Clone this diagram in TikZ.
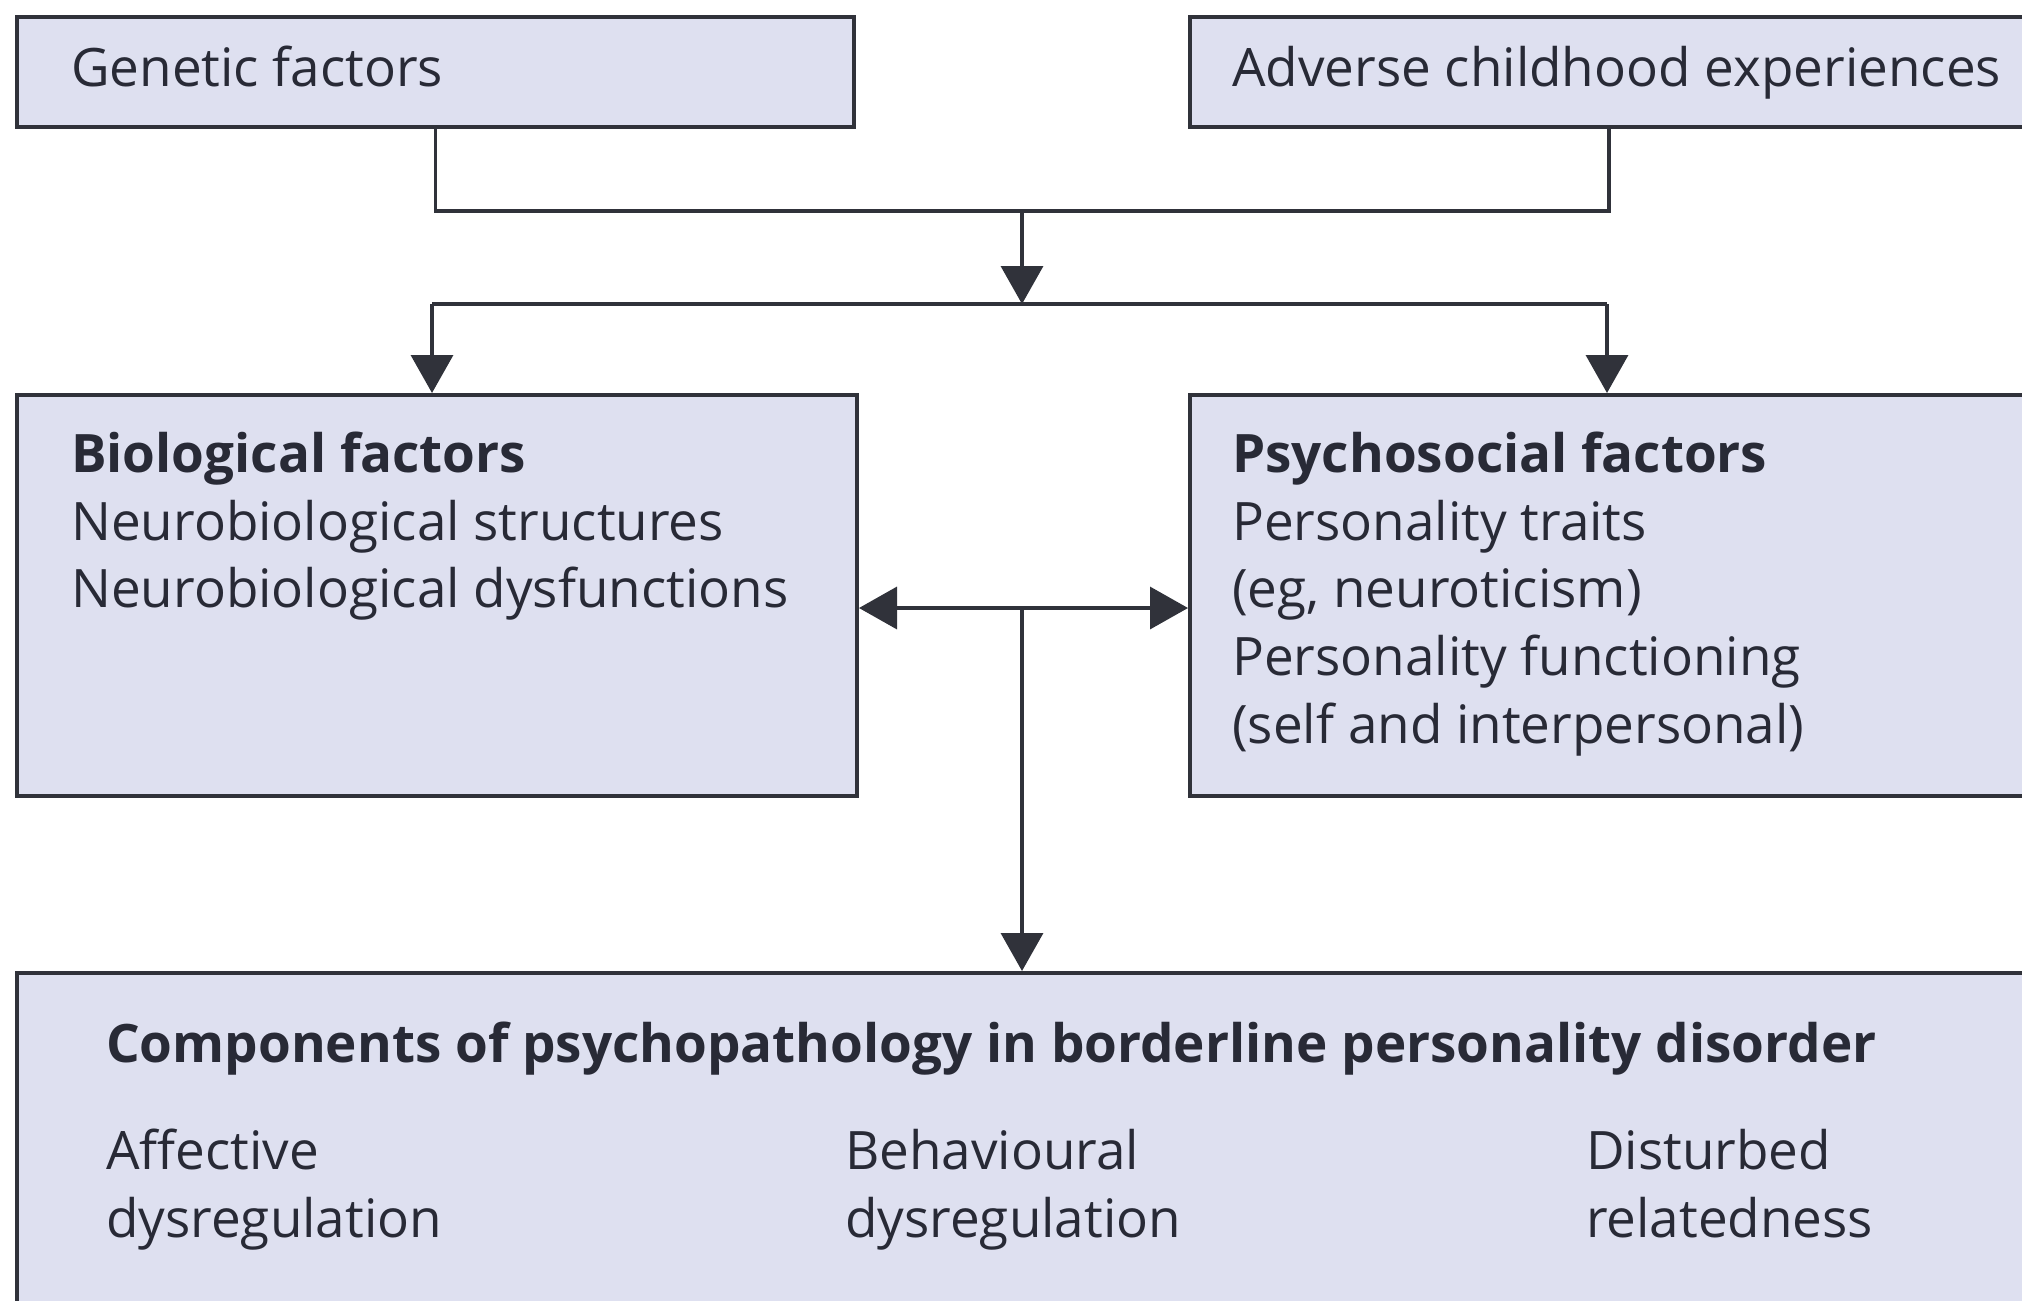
\documentclass[tikz,border=0pt]{standalone}
\usepackage{fontspec}
\setmainfont{Open Sans}
\usetikzlibrary{arrows.meta}
\definecolor{boxfill}{RGB}{222,224,240}
\definecolor{boxline}{RGB}{48,50,58}
\definecolor{txt}{RGB}{40,42,54}
\begin{document}
\begin{tikzpicture}[x=1pt,y=-1pt,
  box/.style={draw=boxline, fill=boxfill, line width=4pt, rectangle, anchor=north west, inner sep=0pt},
  lbl/.style={anchor=base west, inner sep=0pt, text=txt, font=\fontsize{53}{68}\selectfont},
  blbl/.style={lbl, font=\fontsize{53}{68}\selectfont\bfseries},
  conn/.style={draw=boxline, line width=3.5pt},
  arr/.style={conn, -{Triangle[length=38pt,width=42pt]}},
  darr/.style={conn, {Triangle[length=38pt,width=42pt]}-{Triangle[length=38pt,width=42pt]}}]

\useasboundingbox (0,0) rectangle (2022,1301);

% boxes
\node[box, minimum width=837pt, minimum height=110pt] (gen) at (15,15) {};
\node[box, minimum width=838pt, minimum height=110pt] (ace) at (1188,15) {};
\node[box, minimum width=840pt, minimum height=401pt] (bio) at (15,393) {};
\node[box, minimum width=838pt, minimum height=401pt] (psy) at (1188,393) {};
\node[box, minimum width=2020pt, minimum height=340pt] (comp) at (15,971) {};

% texts
\node[lbl] (tgen) at (71,86) {Genetic factors};
\node[lbl] (tace) at (1232,86) {Adverse childhood experiences};

\node[blbl] (bio1) at (71,472) {Biological factors};
\node[lbl] (bio2) at (71,540) {Neurobiological structures};
\node[lbl] (bio3) at (71,607) {Neurobiological dysfunctions};

\node[blbl] (psy1) at (1232,472) {Psychosocial factors};
\node[lbl] (psy2) at (1232,540) {Personality traits};
\node[lbl] (psy3) at (1232,607) {(eg, neuroticism)};
\node[lbl] (psy4) at (1232,675) {Personality functioning};
\node[lbl] (psy5) at (1232,743) {(self and interpersonal)};

\node[blbl] (ctitle) at (106,1062) {Components of psychopathology in borderline personality disorder};
\node[lbl] (c1a) at (106,1169) {Affective};
\node[lbl] (c1b) at (106,1237) {dysregulation};
\node[lbl] (c2a) at (845,1169) {Behavioural};
\node[lbl] (c2b) at (845,1237) {dysregulation};
\node[lbl] (c3a) at (1586,1169) {Disturbed};
\node[lbl] (c3b) at (1586,1237) {relatedness};

% connectors
\coordinate (j1) at (1022,211);
\coordinate (j2) at (1022,304);
\coordinate (b1) at (432,304);
\coordinate (p1) at (1607,304);
\coordinate (j3) at (1022,608);

\draw[conn] (gen.south) |- (j1) -| (ace.south);
\draw[arr] (j1) -- (j2);
\draw[conn] (b1) -- (p1);
\draw[arr] (b1) -- (b1 |- bio.north);
\draw[arr] (p1) -- (p1 |- psy.north);
\draw[darr] (bio.east |- j3) -- (psy.west |- j3);
\draw[arr] (j3) -- (j3 |- comp.north);
\end{tikzpicture}
\end{document}
